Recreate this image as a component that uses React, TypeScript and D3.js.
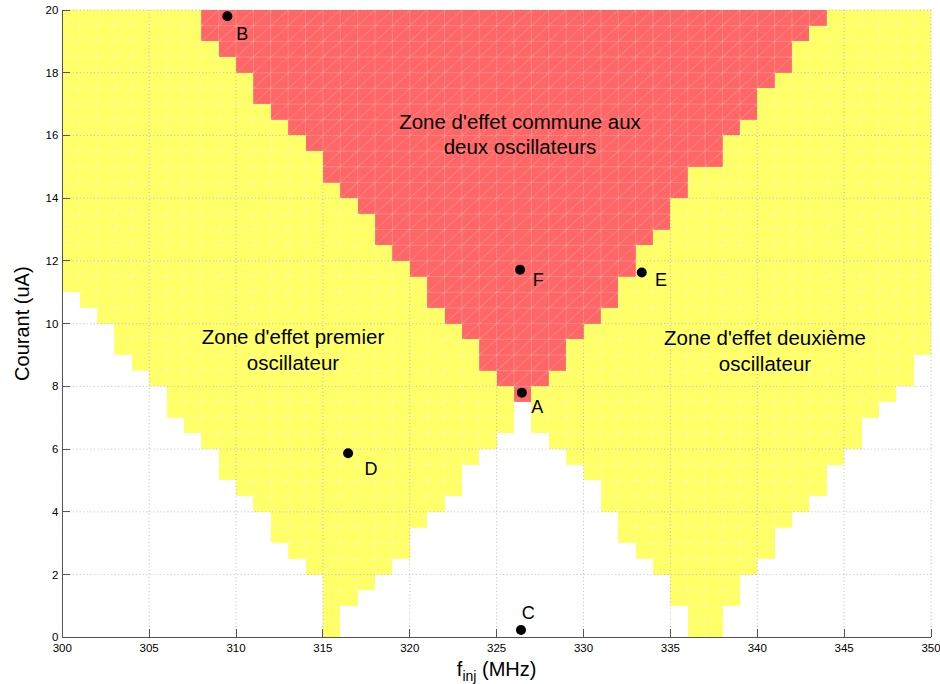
import React from "react";
import * as d3 from "d3";

// Column left edges (MHz), each column is 1 MHz wide
const freqs = [
  300, 301, 302, 303, 304, 305, 306, 307, 308, 309,
  310, 311, 312, 313, 314, 315, 316, 317, 318, 319,
  320, 321, 322, 323, 324, 325, 326, 327, 328, 329,
  330, 331, 332, 333, 334, 335, 336, 337, 338, 339,
  340, 341, 342, 343, 344, 345, 346, 347, 348, 349,
];

// Lower current limit (uA) of the first oscillator's zone, per column (null = none)
const osc1Lower: (number | null)[] = [
  11, 10.5, 10, 9, 8.5, 8, 7, 6.5, 6, 5,
  4.5, 4, 3, 2.5, 2, 0, 1, 1.5, 2, 2.5,
  3.5, 4, 4.5, 5.5, 6, 6.5, 7.5, 8, 8.5, 9.5,
  10, 10.5, 11.5, 12.5, 13, 14, 15, 15, 16, 16.5,
  17.5, 18, 19, 19.5, null, null, null, null, null, null,
];

// Lower current limit (uA) of the second oscillator's zone, per column
const osc2Lower: (number | null)[] = [
  null, null, null, null, null, null, null, null, 19, 18.5,
  18, 17, 16.5, 16, 15.5, 14.5, 14, 13.5, 12.5, 12,
  11.5, 10.5, 10, 9.5, 8.5, 8, 7.5, 6.5, 6, 5.5,
  5, 4, 3, 2.5, 2, 1, 0, 0, 1, 2,
  2.5, 3.5, 4, 4.5, 5.5, 6, 7, 7.5, 8, 9,
];

const pointNames = ["A", "B", "C", "D", "E", "F"];
const pointX = [326.45, 309.5, 326.4, 316.45, 333.35, 326.35];
const pointY = [7.8, 19.8, 0.23, 5.87, 11.63, 11.72];
const labelDx = [9.5, 9, 0.7, 16.3, 13.3, 12.7];
const labelDy = [20.7, 24, -10.7, 21.7, 13.3, 16];

const xTicks = [300, 305, 310, 315, 320, 325, 330, 335, 340, 345, 350];
const yTicks = [0, 2, 4, 6, 8, 10, 12, 14, 16, 18, 20];

const FONT = "'Liberation Sans', Arial, Helvetica, sans-serif";
const YELLOW = "#FFFF66";
const RED = "#FF6666";

export default function App() {
  const left = 62.3, right = 931, top = 10, bottom = 637.3;
  const x = d3.scaleLinear().domain([300, 350]).range([left, right]);
  const y = d3.scaleLinear().domain([0, 20]).range([bottom, top]);
  const yMax = 20;
  const rowStep = 0.5;

  const cols = freqs.map((f, i) => {
    const a = osc1Lower[i];
    const b = osc2Lower[i];
    const vals = [a, b].filter((v) => v !== null) as number[];
    const union = vals.length ? Math.min(...vals) : null;
    const inter = a !== null && b !== null ? Math.max(a, b) : null;
    return { f, union, inter };
  });

  // faint white mesh lines inside colored cells
  let mesh = "";
  cols.forEach((c) => {
    if (c.union === null) return;
    const x0 = x(c.f), x1 = x(c.f + 1);
    for (let v = c.union; v < yMax - 1e-9; v += rowStep) {
      const yb = y(v), yt = y(v + rowStep);
      mesh += `M${x0},${yb}L${x1},${yb}M${x0},${yb}L${x1},${yt}M${x0},${yb}L${x0},${yt}`;
    }
  });

  return (
    <svg
      width={940}
      height={684}
      style={{ position: "absolute", left: 0, top: 0, background: "#fff" }}
      fontFamily={FONT}
    >
      <g shapeRendering="crispEdges">
        {cols.map((c) =>
          c.union !== null ? (
            <rect
              key={"u" + c.f}
              x={x(c.f)}
              y={y(yMax)}
              width={x(c.f + 1) - x(c.f)}
              height={y(c.union) - y(yMax)}
              fill={YELLOW}
            />
          ) : null
        )}
        {cols.map((c) =>
          c.inter !== null ? (
            <rect
              key={"i" + c.f}
              x={x(c.f)}
              y={y(yMax)}
              width={x(c.f + 1) - x(c.f)}
              height={y(c.inter) - y(yMax)}
              fill={RED}
            />
          ) : null
        )}
      </g>
      <path d={mesh} stroke="#fff" strokeOpacity={0.28} strokeWidth={0.8} fill="none" />

      {/* grid */}
      <g stroke="#8a8a8a" strokeOpacity={0.7} strokeDasharray="1,2.5" strokeWidth={0.8}>
        {xTicks.map((t) => (
          <line key={"gx" + t} x1={x(t)} x2={x(t)} y1={top} y2={bottom} />
        ))}
        {yTicks.map((t) => (
          <line key={"gy" + t} x1={left} x2={right} y1={y(t)} y2={y(t)} />
        ))}
      </g>

      {/* axes */}
      <g stroke="#555" strokeWidth={1} shapeRendering="crispEdges">
        <line x1={left} x2={left} y1={top} y2={bottom} />
        <line x1={left} x2={right} y1={bottom} y2={bottom} />
        {xTicks.map((t) => (
          <line key={"tx" + t} x1={x(t)} x2={x(t)} y1={bottom} y2={bottom - 8} />
        ))}
        {yTicks.map((t) => (
          <line key={"ty" + t} x1={left} x2={left + 8} y1={y(t)} y2={y(t)} />
        ))}
      </g>

      <g fontSize={11.5} fill="#000">
        {xTicks.map((t) => (
          <text key={"lx" + t} x={x(t)} y={bottom + 14.5} textAnchor="middle">
            {t}
          </text>
        ))}
        {yTicks.map((t) => (
          <text key={"ly" + t} x={left - 4} y={y(t) + 4} textAnchor="end">
            {t}
          </text>
        ))}
      </g>

      {/* axis titles */}
      <text
        transform={`translate(29,${(top + bottom) / 2}) rotate(-90)`}
        textAnchor="middle"
        fontSize={20}
        fill="#000"
      >
        Courant (uA)
      </text>
      <text x={(left + right) / 2} y={676} textAnchor="middle" fontSize={20} fill="#000">
        <tspan>f</tspan>
        <tspan fontSize={14} dy={5}>inj</tspan>
        <tspan dy={-5}> (MHz)</tspan>
      </text>

      {/* zone annotations */}
      <g fontSize={20.5} fill="#000" textAnchor="middle">
        <text x={520} y={128.5}>Zone d'effet commune aux</text>
        <text x={520} y={154}>deux oscillateurs</text>
        <text x={293} y={344}>Zone d'effet premier</text>
        <text x={293} y={369.5}>oscillateur</text>
        <text x={765} y={345}>Zone d'effet deuxième</text>
        <text x={765} y={370.5}>oscillateur</text>
      </g>

      {/* points */}
      {pointNames.map((n, i) => (
        <g key={n}>
          <circle cx={x(pointX[i])} cy={y(pointY[i])} r={5} fill="#000" />
          <text
            x={x(pointX[i]) + labelDx[i]}
            y={y(pointY[i]) + labelDy[i]}
            fontSize={18}
            fill="#000"
          >
            {n}
          </text>
        </g>
      ))}
    </svg>
  );
}
